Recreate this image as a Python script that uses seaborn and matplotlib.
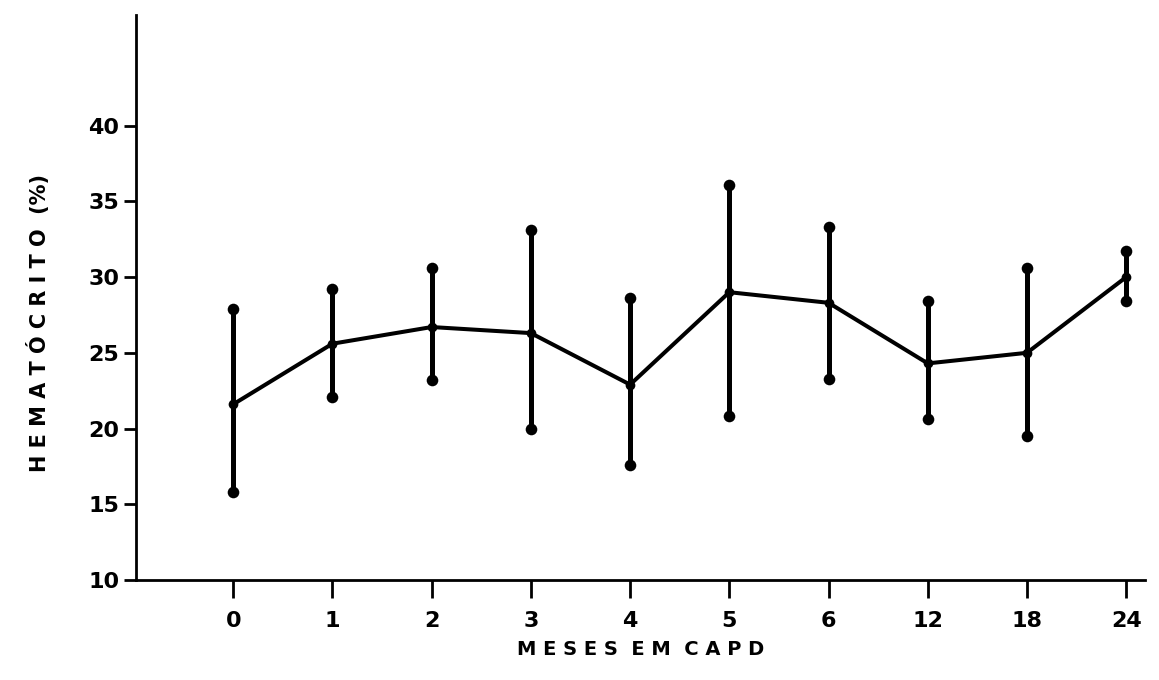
import pandas as pd
import seaborn as sns
import matplotlib.pyplot as plt

# Values
months = ['0', '1', '2', '3', '4', '5', '6', '12', '18', '24']
mean_hct = [21.6, 25.6, 26.7, 26.3, 22.9, 29.0, 28.3, 24.3, 25.0, 30.0]
upper_hct = [27.9, 29.2, 30.6, 33.1, 28.6, 36.1, 33.3, 28.4, 30.6, 31.7]
lower_hct = [15.8, 22.1, 23.2, 20.0, 17.6, 20.8, 23.3, 20.6, 19.5, 28.4]
y_ticks = [10, 15, 20, 25, 30, 35, 40]

sns.set_style('white')
plt.rcParams['font.family'] = ['DejaVu Sans']
plt.rcParams['text.color'] = 'black'
plt.rcParams['axes.labelcolor'] = 'black'
plt.rcParams['xtick.color'] = 'black'
plt.rcParams['ytick.color'] = 'black'

df = pd.DataFrame({'pos': range(len(months)), 'mean': mean_hct,
                   'upper': upper_hct, 'lower': lower_hct})
ends = pd.concat([df[['pos', 'upper']].rename(columns={'upper': 'val'}),
                  df[['pos', 'lower']].rename(columns={'lower': 'val'})])

fig = plt.figure(figsize=(11.59, 6.8), dpi=100)
ax = fig.add_axes([0.1173, 0.147, 0.8707, 0.831])

# error bars
ax.vlines(df['pos'], df['lower'], df['upper'], color='black', linewidth=3.6, zorder=2)
sns.scatterplot(data=ends, x='pos', y='val', color='black', s=70,
                edgecolor='black', linewidth=0, ax=ax, zorder=3)

# mean line
sns.lineplot(data=df, x='pos', y='mean', color='black', linewidth=2.9,
             marker='o', markersize=7, markeredgewidth=0, ax=ax, zorder=4)

ax.set_xlim(-0.98, 9.19)
ax.set_ylim(10, 47.3)
ax.set_xticks(range(len(months)))
ax.set_xticklabels(months)
ax.set_yticks(y_ticks)

for side in ['top', 'right']:
    ax.spines[side].set_visible(False)
for side in ['left', 'bottom']:
    ax.spines[side].set_linewidth(2.0)
    ax.spines[side].set_color('black')

ax.tick_params(axis='x', direction='out', length=13, width=2, pad=9,
               labelsize=16, bottom=True, colors='black')
ax.tick_params(axis='y', direction='out', length=9, width=2, pad=3,
               labelsize=16, left=True, colors='black')
for lab in ax.get_xticklabels() + ax.get_yticklabels():
    lab.set_fontweight('heavy')

ax.set_xlabel('M E S E S  E M  C A P D', fontsize=14, fontweight='heavy',
              color='black', labelpad=7)
ax.set_ylabel('H E M A T Ó C R I T O  (%)', fontsize=15, fontweight='heavy',
              color='black')
ax.yaxis.set_label_coords(-0.085, 0.455)

fig.savefig('out.png', dpi=100)
